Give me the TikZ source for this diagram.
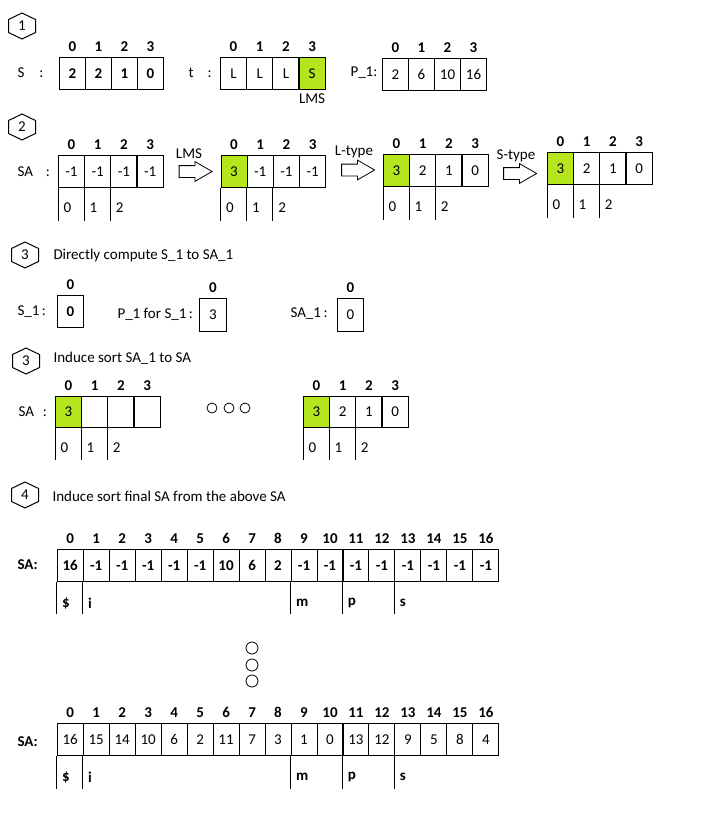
\documentclass[tikz,border=0pt]{standalone}
\usepackage{fontspec}
\setmainfont{Carlito}
\usepackage{tikz}
\usetikzlibrary{shapes.arrows,positioning}
\definecolor{lmsgreen}{RGB}{181,230,29}
\newcommand\diagfont{\fontsize{15}{18}\selectfont}

\begin{document}
\begin{tikzpicture}[x=1pt, y=-1pt, line width=1pt, font=\diagfont,
    bold/.style={font=\diagfont\bfseries},
    cell/.style={draw, minimum width=26pt, minimum height=32pt, inner sep=0pt, anchor=north west},
    idx/.style={bold, inner sep=0pt, above=5pt},
    bucket/.style={anchor=west, inner sep=0pt, xshift=5pt, yshift=-20pt},
    blockarrow/.style={single arrow, draw, line width=0.8pt, inner sep=5.5pt, minimum height=33pt,
        minimum width=0pt, single arrow head extend=4pt, single arrow tip angle=60}]
    \useasboundingbox (0,0) rectangle (703,830);
    % step markers
    \foreach \n/\x/\y/\t in {h1/22/26/1, h2/22/127/2, h3/25/255/3, h4/26/361/3, h5/25/495/4} {
        \node[inner sep=0pt] (\n) at (\x,\y) {\t};
        \draw (\n.center) +(0,-13) -- +(13.5,-6.5) -- +(13.5,6.5) -- +(0,13) -- +(-13.5,6.5) -- +(-13.5,-6.5) -- cycle;
    }
    % 1: S, t and P_1
    \node[anchor=west, inner sep=0pt] (slab) at (17,73) {S\hspace{15pt}:};
    \foreach \v [count=\i from 0] in {2,2,1,0} {
        \node[cell, bold] (s\i) at (59+26*\i,57) {\v};
        \node[idx] (si\i) at (s\i.north) {\i};
    }
    \node[anchor=west, inner sep=0pt] (tlab) at (188,73) {t\hspace{14pt}:};
    \foreach \v/\c [count=\i from 0] in {L/white,L/white,L/white,S/lmsgreen} {
        \node[cell, fill=\c] (t\i) at (220+26.2*\i,57) {\v};
        \node[idx] (ti\i) at (t\i.north) {\i};
    }
    \node[below=0pt of t3] (lmslab) {LMS};
    \node[anchor=west, inner sep=0pt] (plab) at (350,73) {P\_1:};
    \foreach \v [count=\i from 0] in {2,6,10,16} {
        \node[cell] (p\i) at (382+26*\i,58) {\v};
        \node[idx] (pi\i) at (p\i.north) {\i};
    }
    % 2: SA after each step
    \node[anchor=west, inner sep=0pt] (salab) at (17,172) {SA\hspace{13pt}:};
    \foreach \n/\x/\y/\vals in {a/58/155/{-1/white,-1/white,-1/white,-1/white},
                                b/220.5/155/{3/lmsgreen,-1/white,-1/white,-1/white},
                                c/383/154/{3/lmsgreen,2/white,1/white,0/white},
                                d/547/152/{3/lmsgreen,2/white,1/white,0/white}} {
        \foreach \v/\c [count=\i from 0] in \vals {
            \node[cell, fill=\c] (\n\i) at (\x+26.2*\i,\y) {\v};
            \node[idx] (\n i\i) at (\n\i.north) {\i};
        }
        \foreach \i in {0,1,2} {
            \draw (\n\i.south west) -- ++(0,33);
            \node[bucket] (\n b\i) at (\n\i.south west) {\i};
        }
    }
    \node[blockarrow] (ar1) at (190.5,171.5) {};
    \node (ar1lab) at (189,154) {LMS};
    \node[blockarrow] (ar2) at (353,170) {};
    \node (ar2lab) at (354,152) {L-type};
    \node[blockarrow] (ar3) at (515,173.5) {};
    \node (ar3lab) at (516,156) {S-type};
    % 3: S_1 to SA_1
    \node[anchor=west, inner sep=0pt] (t3a) at (53,255) {Directly compute S\_1 to SA\_1};
    \node[anchor=west, inner sep=0pt] (s1lab) at (17,312) {S\_1\,:};
    \node[cell, bold] (s1) at (57,295) {0};
    \node[idx] (s1i) at (s1.north) {0};
    \node[anchor=west, inner sep=0pt] (p1lab) at (117,314) {P\_1 for S\_1\,:};
    \node[cell, minimum width=27pt, minimum height=33pt] (p1) at (199,298) {3};
    \node[idx] (p1i) at (p1.north) {0};
    \node[anchor=west, inner sep=0pt] (sa1lab) at (290,314) {SA\_1\,:};
    \node[cell, minimum height=33pt] (sa1) at (337,298) {0};
    \node[idx] (sa1i) at (sa1.north) {0};
    % 3: SA_1 to SA
    \node[anchor=west, inner sep=0pt] (t3b) at (53,358) {Induce sort SA\_1 to SA};
    \node[anchor=west, inner sep=0pt] (salab2) at (18,412) {SA\hspace{9pt}:};
    \foreach \n/\x/\vals in {e/55/{3/lmsgreen,/white,/white,/white},
                             f/303/{3/lmsgreen,2/white,1/white,0/white}} {
        \foreach \v/\c [count=\i from 0] in \vals {
            \node[cell, minimum height=31pt, fill=\c] (\n\i) at (\x+26.2*\i,396) {\v};
            \node[idx] (\n i\i) at (\n\i.north) {\i};
        }
        \foreach \i in {0,1,2} {
            \draw (\n\i.south west) -- ++(0,32);
            \node[bucket] (\n b\i) at (\n\i.south west) {\i};
        }
    }
    \foreach \x in {212,229,245} \draw[line width=0.8pt] (\x,408) circle (5);
    % 4: final SA
    \node[anchor=west, inner sep=0pt] (t4) at (52,496) {Induce sort final SA from the above SA};
    \node[anchor=west, inner sep=0pt, bold] (galab) at (17,565) {SA:};
    \foreach \v [count=\i from 0] in {16,-1,-1,-1,-1,-1,10,6,2,-1,-1,-1,-1,-1,-1,-1,-1} {
        \node[cell, bold] (g\i) at (56.7+25.98*\i,549) {\v};
        \node[idx] (gi\i) at (g\i.north) {\i};
    }
    \foreach \i/\l in {0/\$,1/i,9/m,11/p,13/s} {
        \draw (g\i.south west) -- ++(0,32);
        \node[bucket, bold, yshift=-1pt] (gb\i) at (g\i.south west) {\l};
    }
    \foreach \y in {648,665,681} \draw[line width=0.8pt] (252,\y) circle (6);
    \node[anchor=west, inner sep=0pt, bold] (halab) at (17,742) {SA:};
    \foreach \v [count=\i from 0] in {16,15,14,10,6,2,11,7,3,1,0,13,12,9,5,8,4} {
        \node[cell] (h\i) at (56.7+25.98*\i,723) {\v};
        \node[idx] (hi\i) at (h\i.north) {\i};
    }
    \foreach \i/\l in {0/\$,1/i,9/m,11/p,13/s} {
        \draw (h\i.south west) -- ++(0,33);
        \node[bucket, bold, yshift=-1pt] (hb\i) at (h\i.south west) {\l};
    }
\end{tikzpicture}
\end{document}
